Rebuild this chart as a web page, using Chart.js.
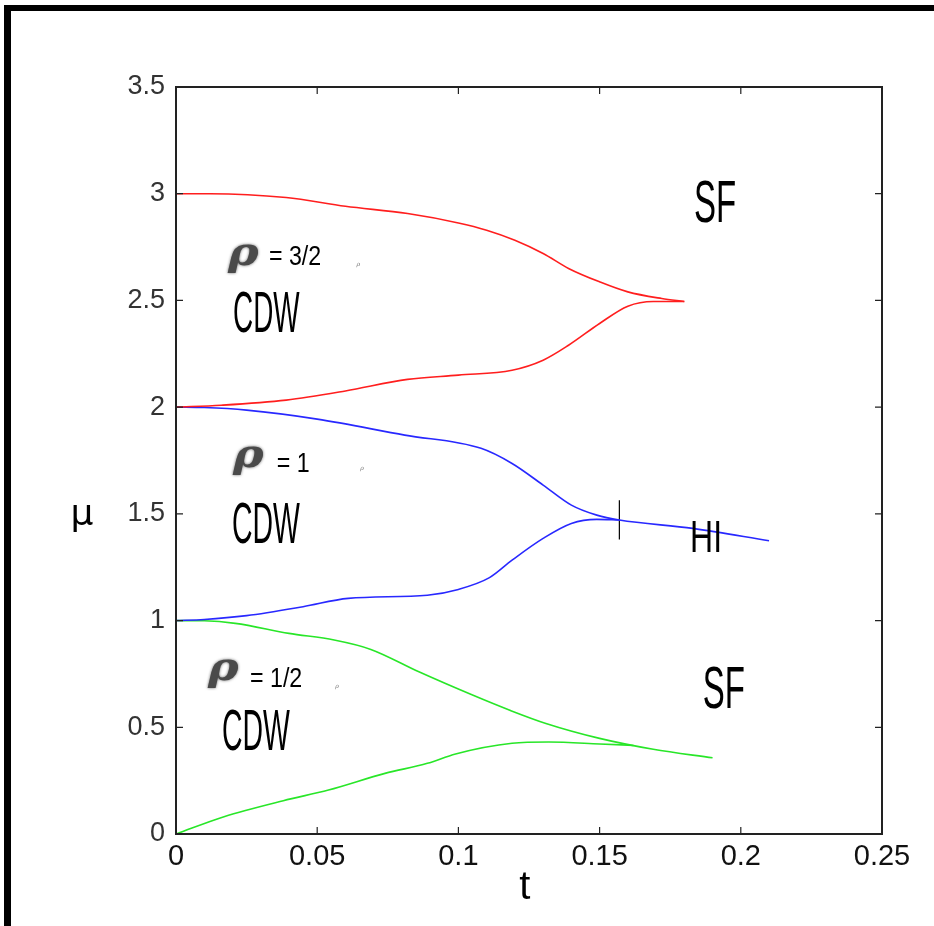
<!DOCTYPE html>
<html>
<head>
<meta charset="utf-8">
<script src="https://cdn.jsdelivr.net/npm/chart.js@4.4.1/dist/chart.umd.min.js"></script>
<style>
  html, body { margin: 0; padding: 0; background: #fff; }
  canvas { display: block; }
</style>
</head>
<body>
<canvas id="c" width="934" height="926" style="width:934px;height:926px"></canvas>
<script>
// ---- data ----
const xTicks = [0, 0.05, 0.1, 0.15, 0.2, 0.25];
const xTickLabels = ['0', '0.05', '0.1', '0.15', '0.2', '0.25'];
const yTicks = [0, 0.5, 1, 1.5, 2, 2.5, 3, 3.5];
const yTickLabels = ['0', '0.5', '1', '1.5', '2', '2.5', '3', '3.5'];

const redUpperT  = [0, 0.012, 0.039, 0.060, 0.082, 0.100, 0.110, 0.120, 0.130, 0.139, 0.150, 0.160, 0.172, 0.180];
const redUpperMu = [3.0, 3.0, 2.982, 2.941, 2.907, 2.863, 2.829, 2.782, 2.720, 2.650, 2.587, 2.540, 2.509, 2.495];
const redLowerT  = [0, 0.016, 0.039, 0.060, 0.082, 0.100, 0.119, 0.130, 0.139, 0.150, 0.160, 0.169, 0.180];
const redLowerMu = [2.0, 2.009, 2.033, 2.076, 2.130, 2.150, 2.173, 2.220, 2.290, 2.392, 2.473, 2.495, 2.495];

const blueUpperT  = [0, 0.010, 0.025, 0.050, 0.081, 0.108, 0.119, 0.130, 0.140, 0.149, 0.157, 0.183, 0.210];
const blueUpperMu = [2.0, 1.998, 1.986, 1.944, 1.869, 1.807, 1.736, 1.635, 1.541, 1.494, 1.471, 1.432, 1.374];
const blueLowerT  = [0, 0.010, 0.025, 0.045, 0.061, 0.089, 0.100, 0.111, 0.119, 0.130, 0.140, 0.149, 0.157];
const blueLowerMu = [1.0, 1.005, 1.023, 1.065, 1.104, 1.119, 1.146, 1.201, 1.283, 1.385, 1.455, 1.474, 1.471];

const greenUpperT  = [0, 0.010, 0.021, 0.040, 0.056, 0.069, 0.086, 0.105, 0.118, 0.131, 0.150, 0.169, 0.190];
const greenUpperMu = [1.0, 0.999, 0.987, 0.940, 0.909, 0.865, 0.760, 0.651, 0.581, 0.518, 0.448, 0.397, 0.357];
const greenLowerT  = [0, 0.017, 0.038, 0.054, 0.074, 0.089, 0.099, 0.119, 0.132, 0.150, 0.162];
const greenLowerMu = [0, 0.081, 0.156, 0.206, 0.284, 0.331, 0.375, 0.425, 0.431, 0.422, 0.415];

const markT  = [0.157, 0.157];
const markMu = [1.38, 1.564];

// ---- helpers ----
const pts = (ts, ms) => ts.map((t, i) => ({ x: t, y: ms[i] }));
const RED = 'rgb(255,30,30)', BLUE = 'rgb(40,40,255)', GREEN = 'rgb(40,230,40)';
const line = (data, color) => ({
  data, borderColor: color, borderWidth: 1.6, showLine: true, pointRadius: 0,
  cubicInterpolationMode: 'monotone', fill: false
});

// labels placed in data coordinates
const annotations = [
  { text: 'SF', t: 0.1909, mu: 2.866, size: 60, sx: 0.55, align: 'center' },
  { text: 'SF', t: 0.1940, mu: 0.590, size: 60, sx: 0.55, align: 'center' },
  { text: 'HI', t: 0.1877, mu: 1.321, size: 45, sx: 0.71, align: 'center' },
  { text: 'CDW', t: 0.0202, mu: 2.350, size: 58, sx: 0.48, align: 'left' },
  { text: 'CDW', t: 0.0198, mu: 1.365, size: 58, sx: 0.49, align: 'left' },
  { text: 'CDW', t: 0.0163, mu: 0.393, size: 58, sx: 0.49, align: 'left' },
  { text: '= 3/2', t: 0.0329, mu: 2.665, size: 27, sx: 0.86, align: 'left' },
  { text: '= 1',   t: 0.0357, mu: 1.696, size: 27, sx: 0.86, align: 'left' },
  { text: '= 1/2', t: 0.0262, mu: 0.689, size: 27, sx: 0.86, align: 'left' }
];
const rhos = [
  { t: 0.0184, mu: 2.665 },
  { t: 0.0202, mu: 1.719 },
  { t: 0.0113, mu: 0.721 }
];
const specks = [
  { t: 0.0645, mu: 2.660 },
  { t: 0.0659, mu: 1.705 },
  { t: 0.0570, mu: 0.684 }
];

const decor = {
  id: 'decor',
  beforeDraw(chart) {
    const c = chart.ctx;
    c.save();
    c.fillStyle = '#fff';
    c.fillRect(0, 0, chart.width, chart.height);
    c.fillStyle = '#000';
    c.fillRect(4, 5, chart.width - 4, 6);
    c.fillRect(4, 5, 7, chart.height - 5);
    c.restore();
  },
  afterDraw(chart) {
    const c = chart.ctx, a = chart.chartArea;
    const xs = chart.scales.x, ys = chart.scales.y;
    c.save();
    // box
    c.strokeStyle = '#222';
    c.lineWidth = 2;
    c.strokeRect(a.left, a.top, a.right - a.left, a.bottom - a.top);
    // inward ticks on all four sides
    c.lineWidth = 1.2;
    const tl = 7;
    xs.ticks.forEach(tk => {
      const px = xs.getPixelForValue(tk.value);
      c.beginPath();
      c.moveTo(px, a.bottom); c.lineTo(px, a.bottom - tl);
      c.moveTo(px, a.top); c.lineTo(px, a.top + tl);
      c.stroke();
    });
    ys.ticks.forEach(tk => {
      const py = ys.getPixelForValue(tk.value);
      c.beginPath();
      c.moveTo(a.left, py); c.lineTo(a.left + tl, py);
      c.moveTo(a.right, py); c.lineTo(a.right - tl, py);
      c.stroke();
    });
    // in-plot labels
    c.fillStyle = '#000';
    c.textBaseline = 'alphabetic';
    annotations.forEach(an => {
      const px = xs.getPixelForValue(an.t), py = ys.getPixelForValue(an.mu);
      c.save();
      c.translate(px, py);
      c.scale(an.sx, 1);
      c.font = an.size + 'px "Liberation Sans", Arial, sans-serif';
      c.textAlign = an.align;
      c.fillText(an.text, 0, 0);
      c.restore();
    });
    rhos.forEach(r => {
      const px = xs.getPixelForValue(r.t), py = ys.getPixelForValue(r.mu);
      c.save();
      c.translate(px, py);
      c.scale(1.15, 1);
      c.font = 'italic bold 40px "DejaVu Serif", serif';
      c.fillStyle = '#4a4a4a';
      c.shadowColor = 'rgba(0,0,0,0.6)';
      c.shadowBlur = 3;
      c.textAlign = 'left';
      c.fillText('\u03C1', 0, 0);
      c.restore();
    });
    specks.forEach(s => {
      const px = xs.getPixelForValue(s.t), py = ys.getPixelForValue(s.mu);
      c.font = 'italic 6px "DejaVu Serif", serif';
      c.fillStyle = '#777';
      c.textAlign = 'center';
      c.fillText('\u03C1', px, py);
    });
    // axis titles
    c.fillStyle = '#000';
    c.textAlign = 'center';
    c.font = '40px "Liberation Sans", Arial, sans-serif';
    c.fillText('t', xs.getPixelForValue(0.1235), a.bottom + 65);
    c.font = '36px "DejaVu Sans", sans-serif';
    c.fillText('\u03BC', a.left - 94, ys.getPixelForValue(1.45));
    c.restore();
  }
};

new Chart(document.getElementById('c'), {
  type: 'scatter',
  data: {
    datasets: [
      line(pts(redUpperT, redUpperMu), RED),
      line(pts(redLowerT, redLowerMu), RED),
      line(pts(blueUpperT, blueUpperMu), BLUE),
      line(pts(blueLowerT, blueLowerMu), BLUE),
      line(pts(greenUpperT, greenUpperMu), GREEN),
      line(pts(greenLowerT, greenLowerMu), GREEN),
      { data: pts(markT, markMu), borderColor: '#000', borderWidth: 1.2, showLine: true, pointRadius: 0, tension: 0 }
    ]
  },
  options: {
    responsive: false,
    devicePixelRatio: 1,
    animation: false,
    layout: { padding: { top: 87, right: 52, left: 0, bottom: 0 } },
    plugins: { legend: { display: false }, tooltip: { enabled: false } },
    scales: {
      x: {
        type: 'linear', min: 0, max: 0.25,
        afterBuildTicks: s => { s.ticks = xTicks.map(v => ({ value: v })); },
        afterFit: s => { s.height = 92; },
        grid: { display: false, drawTicks: false },
        border: { display: false },
        ticks: {
          callback: (v, i) => xTickLabels[i],
          font: { family: '"Liberation Sans", Arial, sans-serif', size: 29 },
          color: '#111', padding: 6, maxRotation: 0, autoSkip: false
        }
      },
      y: {
        type: 'linear', min: 0, max: 3.5,
        afterBuildTicks: s => { s.ticks = yTicks.map(v => ({ value: v })); },
        afterFit: s => { s.width = 176; },
        grid: { display: false, drawTicks: false },
        border: { display: false },
        ticks: {
          callback: (v, i) => yTickLabels[i],
          font: { family: '"Liberation Sans", Arial, sans-serif', size: 27 },
          color: '#333', padding: 11, autoSkip: false
        }
      }
    }
  },
  plugins: [decor]
});
</script>
</body>
</html>
